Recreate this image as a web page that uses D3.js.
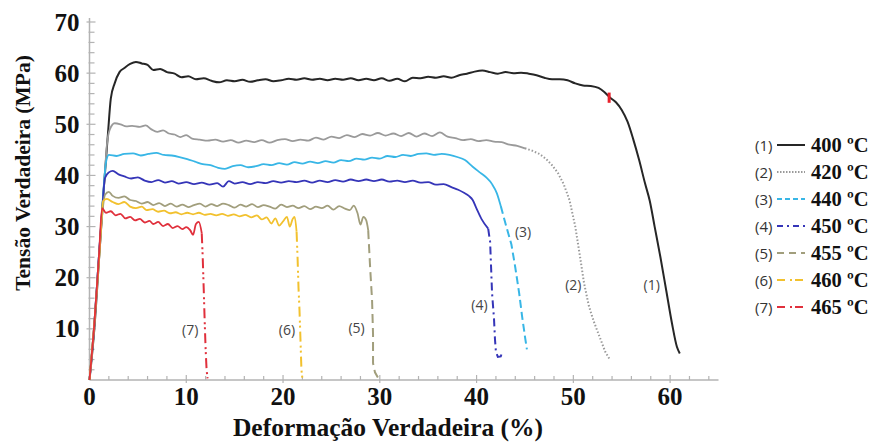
<!DOCTYPE html>
<html>
<head>
<meta charset="utf-8">
<script src="https://cdn.jsdelivr.net/npm/d3@7"></script>
<style>
  html, body { margin: 0; padding: 0; background: #fff; }
  svg { display: block; }
</style>
</head>
<body>
<div id="chart"></div>
<script>
// curves: [strain %, stress MPa]
const s400 = [[0,0],[0.5,10],[1.0,24],[1.5,38],[1.9,48],[2.2,55],[2.6,58],[3.1,60.2],[3.6,61],[4.2,61.8],[4.8,62.2],[5.4,61.9],[6.0,61.6],[6.6,60.6],[7.3,60.8],[8.0,60.2],[8.8,59.9],[9.5,59.2],[10.2,59.4],[11.0,58.8],[11.8,59.0],[12.6,58.5],[13.4,58.2],[14.2,58.6],[15.0,58.4],[15.8,58.7],[16.6,58.3],[17.4,58.6],[18.2,58.8],[19.0,58.4],[19.8,58.6],[20.6,58.9],[21.4,58.7],[22.2,59.0],[23.0,58.7],[23.8,58.9],[24.6,58.6],[25.4,58.9],[26.2,58.7],[27.0,59.0],[27.8,58.6],[28.6,58.9],[29.4,58.6],[30.2,59.0],[31.0,58.5],[31.8,58.9],[32.6,58.4],[33.4,59.1],[34.2,59.0],[35.0,59.3],[35.8,59.1],[36.6,59.4],[37.4,59.1],[38.2,59.6],[39.0,59.9],[39.8,60.3],[40.6,60.5],[41.4,60.2],[42.2,59.9],[43.0,60.2],[43.8,60.0],[44.6,60.1],[45.4,59.9],[46.2,59.6],[47.0,59.1],[47.8,58.8],[48.6,58.8],[49.4,58.6],[50.2,58.0],[51.0,57.6],[51.8,57.5],[52.6,57.1],[53.2,56.3],[53.8,55.2],[54.4,54.3],[55.0,52.8],[55.6,50.5],[56.2,47.0],[56.8,43.0],[57.4,38.5],[57.9,35.0],[58.4,30.0],[59.0,24.0],[59.6,17.5],[60.2,11.0],[60.7,6.5],[61.0,5.2]];
const s420 = [[0,0],[0.5,11],[1.0,25],[1.5,38],[1.8,46],[2.1,49],[2.6,50.2],[3.2,50.0],[3.8,49.6],[4.4,49.7],[5.2,49.5],[5.8,49.8],[6.4,49.0],[7.0,48.5],[7.6,48.8],[8.2,48.2],[8.8,48.0],[9.4,47.5],[10.0,47.9],[10.6,47.2],[11.4,47.0],[12.2,46.8],[13.0,47.0],[13.8,46.6],[14.6,46.9],[15.4,46.4],[16.2,46.8],[17.0,46.5],[17.8,46.9],[18.6,46.4],[19.4,46.9],[20.2,47.1],[21.0,46.7],[21.8,47.0],[22.6,46.8],[23.4,47.4],[24.2,47.0],[25.0,47.6],[25.8,47.3],[26.6,47.9],[27.4,47.5],[28.2,48.1],[29.0,47.8],[29.8,48.3],[30.6,47.8],[31.4,48.2],[32.2,47.7],[33.0,48.3],[33.8,47.6],[34.6,48.2],[35.4,47.7],[36.2,48.4],[37.0,47.6],[37.8,47.3],[38.6,46.9],[39.4,47.1],[40.2,46.7],[41.0,46.9],[41.8,46.6],[42.6,46.5],[43.4,46.0],[44.2,45.8],[45.0,45.3],[45.8,44.8],[46.5,44.2],[47.2,43.2],[47.8,42.0],[48.4,40.5],[49.0,38.3],[49.6,35.2],[50.2,30.0],[50.7,24.0],[51.1,19.0],[51.6,14.5],[52.1,11.5],[52.7,8.5],[53.3,5.5],[53.8,3.9]];
const s440 = [[0,0],[0.5,11],[1.0,25],[1.4,36],[1.7,42.5],[2.0,44.0],[2.8,43.8],[3.6,44.2],[4.5,44.3],[5.3,43.9],[6.1,44.2],[6.9,44.4],[7.7,44.0],[8.5,43.9],[9.3,43.6],[10.1,43.2],[10.9,42.7],[11.7,42.2],[12.5,42.0],[13.3,41.5],[14.0,41.3],[14.8,41.8],[15.6,42.0],[16.4,41.6],[17.2,41.8],[18.0,42.2],[18.8,42.0],[19.6,42.4],[20.4,42.1],[21.2,42.6],[22.0,42.3],[22.8,42.7],[23.6,42.4],[24.4,42.8],[25.2,42.5],[26.0,43.0],[26.8,42.8],[27.6,43.3],[28.4,43.1],[29.2,43.5],[30.0,43.3],[30.8,43.8],[31.6,43.6],[32.4,44.0],[33.2,43.8],[34.0,44.2],[34.8,44.3],[35.6,44.0],[36.4,44.2],[37.2,44.0],[38.0,43.6],[38.8,43.0],[39.6,41.7],[40.4,40.5],[41.0,39.6],[41.6,38.3],[42.1,36.5],[42.5,34.0],[43.0,30.5],[43.6,26.5],[44.0,22.0],[44.4,17.0],[44.7,12.5],[45.0,8.5],[45.2,6.0]];
const s450 = [[0,0],[0.5,11],[1.0,25],[1.3,33],[1.6,39.5],[2.0,40.6],[2.4,40.9],[3.0,40.2],[3.6,39.8],[4.3,39.4],[5.0,39.6],[5.7,39.0],[6.4,38.7],[7.1,39.1],[7.8,38.6],[8.5,38.9],[9.2,38.4],[10.0,38.7],[10.8,38.3],[11.6,38.6],[12.4,38.2],[13.2,38.5],[13.8,37.8],[14.4,38.9],[15.0,38.4],[15.8,38.7],[16.6,38.3],[17.4,38.7],[18.2,38.5],[19.0,38.9],[19.8,38.6],[20.6,38.9],[21.4,38.7],[22.2,39.0],[23.0,38.6],[23.8,39.0],[24.6,38.7],[25.4,39.1],[26.2,38.8],[27.0,39.2],[27.8,38.9],[28.6,39.2],[29.4,38.9],[30.2,39.2],[31.0,38.8],[31.8,39.0],[32.6,38.7],[33.4,39.0],[34.2,38.6],[35.0,38.7],[35.8,38.2],[36.6,38.3],[37.4,37.7],[38.1,37.2],[38.7,36.6],[39.2,36.0],[39.6,35.2],[40.0,33.5],[40.5,31.5],[41.2,29.6],[41.4,27.0],[41.5,22.0],[41.6,17.0],[41.8,12.0],[41.9,8.0],[42.0,5.5],[42.2,4.5],[42.5,4.6],[42.6,5.2]];
const s455 = [[0,0],[0.5,11],[1.0,24],[1.3,32],[1.6,36.2],[2.0,36.8],[2.4,36.0],[3.0,35.6],[3.6,35.9],[4.2,35.2],[4.8,35.0],[5.4,34.5],[6.0,34.8],[6.6,34.2],[7.2,34.6],[7.8,34.0],[8.4,34.5],[9.0,33.9],[9.6,34.3],[10.2,33.8],[10.8,34.2],[11.4,34.5],[12.0,33.9],[12.6,34.4],[13.2,34.0],[13.8,34.5],[14.4,34.2],[15.0,33.7],[15.6,34.3],[16.2,33.9],[16.8,34.4],[17.4,33.8],[18.0,34.2],[18.6,33.9],[19.2,33.5],[19.8,34.3],[20.4,33.8],[21.0,34.1],[21.6,33.6],[22.2,34.0],[22.8,33.4],[23.4,33.9],[24.0,33.6],[24.6,34.1],[25.2,33.3],[25.8,34.0],[26.4,33.5],[26.9,33.2],[27.3,34.1],[27.7,32.6],[28.0,30.4],[28.3,31.9],[28.6,31.2],[28.8,29.3],[29.0,22.0],[29.2,15.6],[29.3,9.0],[29.3,3.3],[29.5,1.5],[29.8,0.5]];
const s460 = [[0,0],[0.5,11],[1.0,24],[1.2,30],[1.4,35.0],[1.8,35.4],[2.4,34.8],[3.0,34.4],[3.6,34.8],[4.2,33.9],[4.8,33.6],[5.4,33.9],[5.9,33.2],[6.5,33.4],[7.1,32.9],[7.7,33.1],[8.3,32.6],[8.9,32.8],[9.5,32.4],[10.1,32.7],[10.7,32.4],[11.3,32.7],[11.9,32.3],[12.5,32.5],[13.1,32.2],[13.7,32.5],[14.3,32.1],[14.9,32.4],[15.5,32.0],[16.1,32.3],[16.7,31.8],[17.3,32.2],[17.8,31.4],[18.3,31.8],[18.8,30.6],[19.2,31.6],[19.6,30.2],[20.0,31.0],[20.4,31.9],[20.7,30.0],[21.0,31.5],[21.2,31.9],[21.4,29.0],[21.5,24.0],[21.6,18.0],[21.7,13.7],[21.8,8.0],[21.9,2.0],[22.0,0.3]];
const s465 = [[0,0],[0.5,11],[1.0,25],[1.3,33.6],[1.7,32.7],[2.2,33.0],[2.7,32.2],[3.2,32.5],[3.7,31.6],[4.2,31.9],[4.7,31.2],[5.2,31.5],[5.7,30.8],[6.2,31.1],[6.6,30.5],[7.1,30.9],[7.6,30.1],[8.1,30.5],[8.6,29.7],[9.1,30.1],[9.6,29.5],[10.0,29.9],[10.4,29.3],[10.7,28.4],[11.0,30.5],[11.3,30.9],[11.6,28.7],[11.7,24],[11.8,18],[11.9,11.7],[12.0,6],[12.1,2],[12.2,0.3]];

const temps = ['400 ºC', '420 ºC', '440 ºC', '450 ºC', '455 ºC', '460 ºC', '465 ºC'];
const tags = ['(1)', '(2)', '(3)', '(4)', '(5)', '(6)', '(7)'];
// where the curve-number labels sit, in data units
const tagPos = [[58.1, 18.6], [50.0, 18.6], [44.8, 28.9], [40.3, 14.7], [27.6, 10.2], [20.4, 9.8], [10.4, 9.8]];
const xTicks = [0, 10, 20, 30, 40, 50, 60];
const yTicks = [10, 20, 30, 40, 50, 60, 70];

const series = [s400, s420, s440, s450, s455, s460, s465];
const colors = ['#262626', '#9a9a9a', '#38b6e6', '#3535b8', '#a19e7c', '#f2c12e', '#e0303c'];
// strain after which the curve switches to its broken style
const breakX = [99, 44.6, 42.4, 41.2, 28.8, 21.4, 11.6];
const dashes = [null, '1.5,2', '8,4', '8,4,2,4', '9,5', '10,4,2,3,2,4', '10,4,2,3,2,4'];
const legendDash = [null, '1.5,1.5', '5,3', '6,4,2,4', '7,5', '8,5,2,3', '8,5,2,3'];

const W = 872, H = 443;
const svg = d3.select('#chart').append('svg').attr('width', W).attr('height', H);

const x = d3.scaleLinear().domain([0, 65]).range([89.5, 718.5]);
const y = d3.scaleLinear().domain([0, 70]).range([380, 22]);

const axisColor = '#b3b3b3';
const serif = '"Liberation Serif", "Times New Roman", serif';
const sans = '"Open Sans", "Liberation Sans", sans-serif';

// axes
const axes = svg.append('g');
axes.append('line').attr('x1', x(0)).attr('x2', x(65)).attr('y1', y(0)).attr('y2', y(0))
  .attr('stroke', axisColor).attr('stroke-width', 1.5);
axes.append('line').attr('x1', x(0)).attr('x2', x(0)).attr('y1', y(0)).attr('y2', y(70.8))
  .attr('stroke', axisColor).attr('stroke-width', 1.5);

axes.selectAll('line.ym').data(d3.range(2, 71, 2)).join('line').attr('class', 'ym')
  .attr('x1', d => d % 10 === 0 ? x(0) - 3 : x(0) - 1)
  .attr('x2', d => d % 10 === 0 ? x(0) + 6 : x(0) + 5)
  .attr('y1', d => y(d)).attr('y2', d => y(d))
  .attr('stroke', axisColor).attr('stroke-width', 1.2);
axes.selectAll('line.xm').data(d3.range(2, 65, 2)).join('line').attr('class', 'xm')
  .attr('x1', d => x(d)).attr('x2', d => x(d))
  .attr('y1', d => d % 10 === 0 ? y(0) + 3 : y(0))
  .attr('y2', d => d % 10 === 0 ? y(0) - 5 : y(0) - 4)
  .attr('stroke', axisColor).attr('stroke-width', 1.2);

axes.selectAll('text.yl').data(yTicks).join('text').attr('class', 'yl')
  .attr('x', x(0) - 10).attr('y', d => y(d) + 8.5)
  .attr('text-anchor', 'end').attr('font-family', serif).attr('font-weight', 'bold')
  .attr('font-size', 25).attr('fill', '#111').text(d => d);
axes.selectAll('text.xl').data(xTicks).join('text').attr('class', 'xl')
  .attr('x', d => x(d)).attr('y', 405)
  .attr('text-anchor', 'middle').attr('font-family', serif).attr('font-weight', 'bold')
  .attr('font-size', 25).attr('fill', '#111').text(d => d);

svg.append('text').attr('transform', 'translate(30,173) rotate(-90)')
  .attr('text-anchor', 'middle').attr('font-family', serif).attr('font-weight', 'bold')
  .attr('font-size', 21.5).attr('fill', '#111').text('Tensão Verdadeira (MPa)');
svg.append('text').attr('x', 388).attr('y', 436)
  .attr('text-anchor', 'middle').attr('font-family', serif).attr('font-weight', 'bold')
  .attr('font-size', 25.5).attr('fill', '#111').text('Deformação Verdadeira (%)');

// curves: solid plateau, styled fracture drop
const line = d3.line().x(d => x(d[0])).y(d => y(d[1])).curve(d3.curveMonotoneX);
const lineR = d3.line().x(d => x(d[0])).y(d => y(d[1])).curve(d3.curveLinear);
const plot = svg.append('g');
series.forEach((s, i) => {
  const k = s.findIndex(p => p[0] >= breakX[i]);
  const head = k < 0 ? s : s.slice(0, k + 1);
  const tail = k < 0 ? [] : s.slice(k);
  plot.append('path').attr('d', line(head)).attr('fill', 'none')
    .attr('stroke', colors[i]).attr('stroke-width', i === 0 ? 2 : 1.8).attr('stroke-linejoin', 'round');
  if (tail.length > 1) {
    plot.append('path').attr('d', lineR(tail)).attr('fill', 'none')
      .attr('stroke', colors[i]).attr('stroke-width', 2)
      .attr('stroke-dasharray', dashes[i]);
  }
});
// small red mark on curve (1)
plot.append('line').attr('x1', x(53.7)).attr('x2', x(53.7)).attr('y1', y(56.2)).attr('y2', y(54.2))
  .attr('stroke', '#e8202a').attr('stroke-width', 3);

plot.selectAll('text.tag').data(tagPos).join('text').attr('class', 'tag')
  .attr('x', d => x(d[0])).attr('y', d => y(d[1]) + 5)
  .attr('text-anchor', 'middle').attr('font-family', sans).attr('font-size', 14)
  .attr('fill', '#444').text((d, i) => tags[i]);

// legend
const legend = svg.append('g').attr('transform', 'translate(755,145)');
const rows = legend.selectAll('g').data(temps).join('g')
  .attr('transform', (d, i) => `translate(0,${i * 27})`);
rows.append('text').attr('x', 0).attr('y', 5.5).attr('font-family', sans).attr('font-size', 15)
  .attr('fill', '#333').text((d, i) => tags[i]);
rows.append('line').attr('x1', 22).attr('x2', 50).attr('y1', 0).attr('y2', 0)
  .attr('stroke', (d, i) => colors[i]).attr('stroke-width', 2)
  .attr('stroke-dasharray', (d, i) => legendDash[i]);
rows.append('text').attr('x', 56).attr('y', 7).attr('font-family', serif).attr('font-weight', 'bold')
  .attr('font-size', 20.5).attr('fill', '#111').text(d => d);
</script>
</body>
</html>
